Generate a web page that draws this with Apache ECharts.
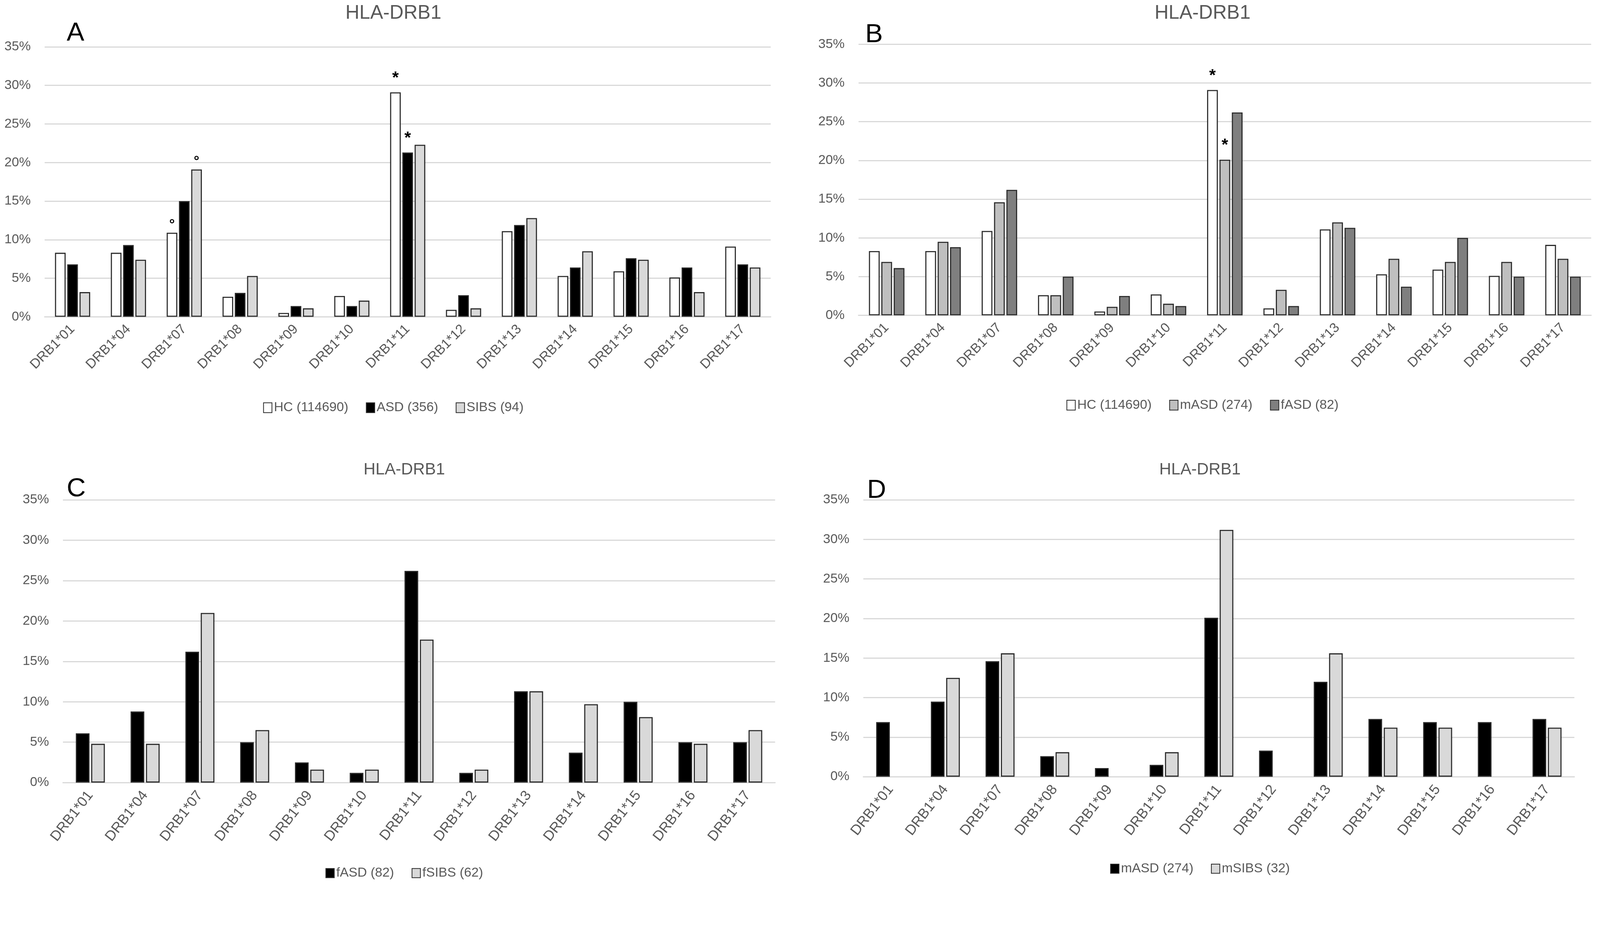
<!DOCTYPE html>
<html>
<head>
<meta charset="utf-8">
<script src="https://cdn.jsdelivr.net/npm/echarts@6/dist/echarts.min.js"></script>
<style>
html,body{margin:0;padding:0;background:#fff;overflow:hidden;}
.p{position:absolute;}
</style>
</head>
<body>
<div id="pA" class="p"></div>
<div id="pB" class="p"></div>
<div id="pC" class="p"></div>
<div id="pD" class="p"></div>
<script>
// ---- data (percent) ----
const categories = ['DRB1*01','DRB1*04','DRB1*07','DRB1*08','DRB1*09','DRB1*10','DRB1*11','DRB1*12','DRB1*13','DRB1*14','DRB1*15','DRB1*16','DRB1*17'];
const hc    = [8.3, 8.3, 10.9, 2.6, 0.5, 2.7, 29.1, 0.9, 11.1, 5.3, 5.9, 5.1, 9.1];
const asd   = [6.8, 9.3, 15.0, 3.1, 1.4, 1.4, 21.3, 2.8, 11.9, 6.4, 7.6, 6.4, 6.8];
const sibs  = [3.2, 7.4, 19.1, 5.3, 1.1, 2.1, 22.3, 1.1, 12.8, 8.5, 7.4, 3.2, 6.4];
const mASD  = [6.9, 9.5, 14.6, 2.6, 1.1, 1.5, 20.1, 3.3, 12.0, 7.3, 6.9, 6.9, 7.3];
const fASD  = [6.1, 8.8, 16.2, 5.0, 2.5, 1.2, 26.2, 1.2, 11.3, 3.7, 10.0, 5.0, 5.0];
const fSIBS = [4.8, 4.8, 21.0, 6.5, 1.6, 1.6, 17.7, 1.6, 11.3, 9.7, 8.1, 4.8, 6.5];
const mSIBS = [null, 12.5, 15.6, 3.1, null, 3.1, 31.2, null, 15.6, 6.2, 6.2, null, 6.2];
const yTicks = {min: 0, max: 35, step: 5};
// significance marks: [series name, category, mark]
const marksA = [['HC (114690)','DRB1*07','°'], ['SIBS (94)','DRB1*07','°'], ['HC (114690)','DRB1*11','*'], ['ASD (356)','DRB1*11','*']];
const marksB = [['HC (114690)','DRB1*11','*'], ['mASD (274)','DRB1*11','*']];

// layout is designed for a 4372 x 2415 page; scale to the actual viewport
const S = (window.innerWidth || 4372) / 4372;
const k = v => v * S;
document.body.style.width = k(4372) + 'px';
document.body.style.height = k(2415) + 'px';

const FONT = "'Liberation Sans', Arial, sans-serif";
const TXT = '#595959';
const markStyle = {
  '*': {fontSize: 46, distance: 16},
  '°': {fontSize: 38, distance: 2}
};

function buildSeries(list, marks, catGap, barGap) {
  return list.map(s => ({
    name: s.name,
    type: 'bar',
    barCategoryGap: catGap,
    barGap: barGap,
    itemStyle: {color: s.color, borderColor: '#2b2b2b', borderWidth: k(3)},
    emphasis: {disabled: true},
    data: s.data.map((v, i) => {
      const m = (marks || []).find(q => q[0] === s.name && q[1] === categories[i]);
      if (v === null) return '-';
      if (!m) return v;
      const st = markStyle[m[2]];
      return {value: v, label: {show: true, position: 'top', formatter: m[2], distance: k(st.distance),
        fontSize: k(st.fontSize), color: '#000', fontFamily: FONT, fontWeight: 'bold'}};
    })
  }));
}

function makeChart(id, cfg) {
  const el = document.getElementById(id);
  el.style.left = k(cfg.box[0]) + 'px';
  el.style.top = k(cfg.box[1]) + 'px';
  el.style.width = k(cfg.box[2]) + 'px';
  el.style.height = k(cfg.box[3]) + 'px';
  const ch = echarts.init(el, null, {renderer: 'canvas'});
  ch.setOption({
    animation: false,
    backgroundColor: 'transparent',
    title: [
      {text: 'HLA-DRB1', left: 'center', top: k(cfg.titleTop),
        textStyle: {fontFamily: FONT, fontSize: k(cfg.titleSize), fontWeight: 'normal', color: TXT}},
      {text: cfg.letter, left: k(cfg.letterPos[0]), top: k(cfg.letterPos[1]),
        textStyle: {fontFamily: FONT, fontSize: k(72), fontWeight: 'normal', color: '#000'}}
    ],
    legend: {
      left: 'center', top: k(cfg.legendTop), icon: 'rect',
      itemWidth: k(23), itemHeight: k(cfg.legendItemH || 27), itemGap: k(48),
      textStyle: {fontFamily: FONT, fontSize: k(36), color: TXT},
      data: cfg.series.map(s => s.name)
    },
    grid: {left: k(cfg.grid[0]), top: k(cfg.grid[1]), width: k(cfg.grid[2]), height: k(cfg.grid[3]), containLabel: false},
    xAxis: {
      type: 'category', data: categories,
      axisLine: {show: true, lineStyle: {color: '#d9d9d9', width: k(3)}},
      axisTick: {show: false},
      axisLabel: {rotate: cfg.labelRotate, margin: k(28), fontFamily: FONT, fontSize: k(cfg.labelSize), color: TXT, interval: 0}
    },
    yAxis: {
      type: 'value', min: yTicks.min, max: yTicks.max, interval: yTicks.step,
      axisLine: {show: false}, axisTick: {show: false},
      splitLine: {show: true, lineStyle: {color: '#d9d9d9', width: k(3)}},
      axisLabel: {formatter: '{value}%', margin: k(38), fontFamily: FONT, fontSize: k(36), color: TXT}
    },
    series: buildSeries(cfg.series, cfg.marks, cfg.catGap, cfg.barGap)
  });
}

makeChart('pA', {
  box: [0, 0, 2150, 1207],
  letter: 'A', letterPos: [177, 50], titleSize: 53, titleTop: 5,
  grid: [122, 128, 1984, 738], legendTop: 1091, labelRotate: 45, labelSize: 37,
  catGap: '37%', barGap: '15%', marks: marksA,
  series: [
    {name: 'HC (114690)', data: hc, color: '#ffffff'},
    {name: 'ASD (356)', data: asd, color: '#000000'},
    {name: 'SIBS (94)', data: sibs, color: '#d9d9d9'}
  ]
});
makeChart('pB', {
  box: [2200, 0, 2172, 1207],
  letter: 'B', letterPos: [159, 54], titleSize: 53, titleTop: 5,
  grid: [146, 121, 2002, 741], legendTop: 1084, labelRotate: 45, labelSize: 37,
  catGap: '37%', barGap: '15%', marks: marksB,
  series: [
    {name: 'HC (114690)', data: hc, color: '#ffffff'},
    {name: 'mASD (274)', data: mASD, color: '#bfbfbf'},
    {name: 'fASD (82)', data: fASD, color: '#7f7f7f'}
  ]
});
makeChart('pC', {
  box: [0, 1207, 2210, 1208],
  letter: 'C', letterPos: [177, 88], titleSize: 45, titleTop: 49,
  grid: [172, 159, 1946, 773], legendTop: 1156, legendItemH: 25, labelRotate: 52, labelSize: 39,
  catGap: '47%', barGap: '12%',
  series: [
    {name: 'fASD (82)', data: fASD, color: '#000000'},
    {name: 'fSIBS (62)', data: fSIBS, color: '#d9d9d9'}
  ]
});
makeChart('pD', {
  box: [2186, 1207, 2186, 1208],
  letter: 'D', letterPos: [178, 93], titleSize: 45, titleTop: 49,
  grid: [173, 159, 1943, 757], legendTop: 1144, legendItemH: 25, labelRotate: 52, labelSize: 39,
  catGap: '47%', barGap: '12%',
  series: [
    {name: 'mASD (274)', data: mASD, color: '#000000'},
    {name: 'mSIBS (32)', data: mSIBS, color: '#d9d9d9'}
  ]
});
</script>
</body>
</html>
